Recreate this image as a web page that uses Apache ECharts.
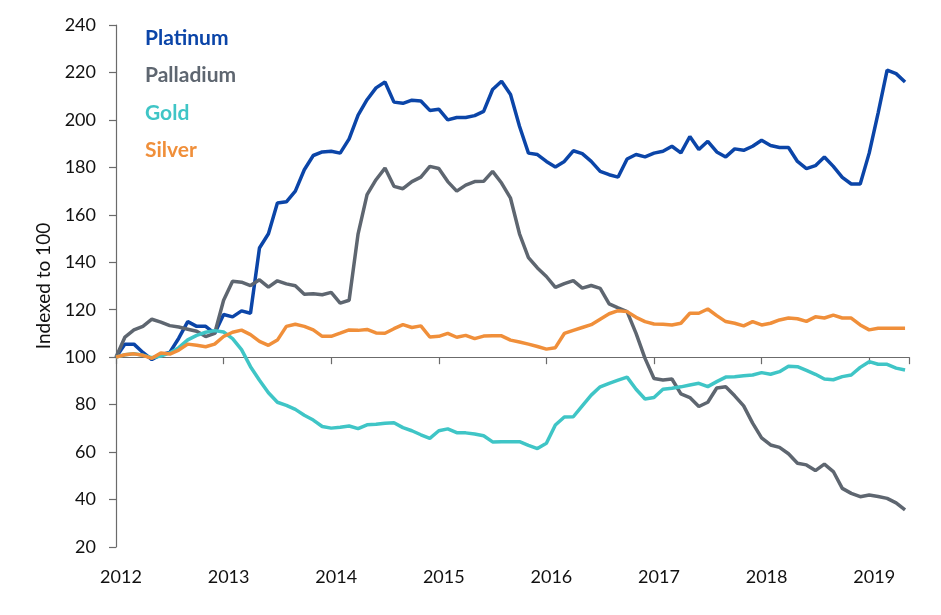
<!DOCTYPE html>
<html>
<head>
<meta charset="utf-8">
<script src="https://cdn.jsdelivr.net/npm/echarts@6/dist/echarts.min.js"></script>
<style>
  html, body { margin: 0; padding: 0; background: #fff; }
  #main { width: 941px; height: 615px; }
</style>
</head>
<body>
<div id="main"></div>
<script>
var myChart = echarts.init(document.getElementById('main'));

// monthly index values, Jan 2012 .. May 2019 (Jan 2012 = 100)
const startYear = 2012;
const yearTicks = [2012, 2013, 2014, 2015, 2016, 2017, 2018, 2019];

const platinum = [
  100, 105.5, 105.5, 102, 99, 101, 102, 108, 115, 113, 113, 110,
  118, 117, 119.5, 118.5, 146, 152, 165, 165.5, 170, 179, 185, 186.5,
  186.8, 186, 192, 202, 208.5, 213.5, 216, 207.5, 207, 208.3, 208, 204,
  204.5, 200, 201, 201, 201.8, 203.6, 212.8, 216.3, 210.7, 197.3, 186, 185.4,
  182.5, 180.2, 182.5, 187, 185.8, 182.5, 178.3, 176.9, 175.9, 183.5, 185.4, 184.4,
  186, 186.8, 188.9, 186.1, 193, 187.5, 191, 186.5, 184.4, 187.8, 187.2, 188.9,
  191.4, 189.2, 188.4, 188.4, 182.5, 179.5, 180.7, 184.4, 180.4, 175.8, 173, 173,
  186, 203, 221, 219.5, 216
];

const palladium = [
  100, 108.5, 111.5, 113, 116, 114.8, 113.3, 112.7, 111.8, 110.9, 108.7, 110,
  124, 132, 131.6, 130.2, 132.6, 129.5, 132.2, 130.9, 130.1, 126.5, 126.7, 126.3,
  127.3, 122.8, 124, 152, 168.5, 174.8, 179.7, 172, 171, 174, 175.9, 180.4,
  179.5, 174, 170, 172.5, 174, 174.1, 178.3, 173.4, 167, 152, 142, 137.6,
  134, 129.4, 131, 132.3, 129.1, 130.2, 129, 122.5, 120.8, 119.2, 110, 99.5,
  91, 90.4, 90.8, 84.5, 83, 79.2, 81, 87, 87.5, 83.7, 79.5, 72.2,
  66, 63, 62, 59.3, 55.3, 54.6, 52.2, 54.9, 51.8, 44.7, 42.6, 41.2,
  41.9, 41.3, 40.5, 38.6, 35.6
];

const gold = [
  100, 101, 101.5, 100.8, 99.8, 100.5, 101.8, 104, 107.3, 109.2, 110.5, 111.2,
  110.6, 107.8, 103.2, 96, 90.3, 85, 81, 79.7, 78, 75.5, 73.5, 70.8,
  70.1, 70.5, 71, 69.9, 71.5, 71.7, 72.2, 72.4, 70.3, 69, 67.3, 65.8,
  69, 69.8, 68.2, 68.1, 67.6, 66.9, 64.3, 64.4, 64.4, 64.4, 62.8, 61.5,
  63.7, 71.4, 74.8, 74.9, 79.5, 84, 87.5, 89, 90.3, 91.6, 86.5, 82.4,
  83, 86.5, 86.9, 87.5, 88.3, 89, 87.6, 89.7, 91.6, 91.8, 92.2, 92.5,
  93.5, 92.8, 93.9, 96.2, 96, 94.4, 92.8, 90.8, 90.5, 91.8, 92.5, 95.7,
  98.1, 97, 97, 95.4, 94.6
];

const silver = [
  100, 101, 101.4, 100.8, 99.5, 101.8, 101.3, 103, 105.5, 105, 104.4, 105.5,
  108.7, 110.5, 111.4, 109.5, 106.7, 105, 107.2, 113, 113.9, 113, 111.5, 108.8,
  108.8, 110.1, 111.5, 111.3, 111.7, 110.2, 110.1, 112, 113.7, 112.5, 113.2, 108.5,
  108.8, 110, 108.4, 109.2, 107.8, 108.9, 109, 109, 107.2, 106.4, 105.5, 104.5,
  103.4, 104, 110, 111.3, 112.5, 113.7, 116, 118.3, 119.6, 119.2, 116.8, 115,
  114, 113.9, 113.6, 114.3, 118.5, 118.5, 120.3, 117.5, 115, 114.3, 113.2, 115,
  113.6, 114.3, 115.7, 116.5, 116.2, 115.1, 117, 116.5, 117.7, 116.5, 116.5, 113.6,
  111.5, 112.2, 112.2, 112.2, 112.2
];

const names = ['Platinum', 'Palladium', 'Gold', 'Silver'];
const colors = ['#0b45a8', '#5e6670', '#3fc5c6', '#f08f3a'];
const values = [platinum, palladium, gold, silver];

// month index -> decimal year
function toPoints(arr) {
  return arr.map(function (v, i) {
    return [startYear + i / 12, v];
  });
}

const fontFamily = 'Lato, "Open Sans", sans-serif';

const option = {
  animation: false,
  backgroundColor: '#fff',
  grid: {
    left: 116,
    right: 32,
    top: 25,
    bottom: 68
  },
  legend: {
    orient: 'vertical',
    left: 140,
    top: 27,
    padding: 0,
    icon: 'none',
    itemWidth: 0,
    itemHeight: 22,
    itemGap: 15.5,
    selectedMode: false,
    textStyle: {
      fontFamily: fontFamily,
      fontSize: 21,
      fontWeight: 'bold',
      lineHeight: 22
    },
    data: names.map(function (n, k) {
      return { name: n, textStyle: { color: colors[k] } };
    })
  },
  xAxis: [
    {
      // axis line with ticks, crossing the y axis at 100
      type: 'value',
      position: 'bottom',
      min: 2012,
      max: 2019.37,
      interval: 1,
      axisLine: {
        show: true,
        onZero: true,
        onZeroAxisIndex: 1,
        lineStyle: { color: '#6b6b6b', width: 1.2 }
      },
      axisTick: { show: true, length: 7, lineStyle: { color: '#6b6b6b', width: 1.2 } },
      axisLabel: { show: false },
      splitLine: { show: false }
    },
    {
      // year labels at the bottom
      type: 'value',
      position: 'bottom',
      min: 2012,
      max: 2019.37,
      interval: 1,
      axisLine: { show: false, onZero: false },
      axisTick: { show: false },
      splitLine: { show: false },
      axisLabel: {
        margin: 21,
        padding: [0, 0, 0, 10],
        color: '#111',
        fontFamily: fontFamily,
        fontSize: 18,
        showMaxLabel: false,
        formatter: function (v) {
          return yearTicks.indexOf(Math.round(v)) >= 0 ? String(Math.round(v)) : '';
        }
      }
    }
  ],
  yAxis: [
    {
      type: 'value',
      min: 20,
      max: 240,
      interval: 20,
      name: 'Indexed to 100',
      nameLocation: 'middle',
      nameRotate: 90,
      nameGap: 61,
      nameTextStyle: { color: '#111', fontFamily: fontFamily, fontSize: 19 },
      axisLine: { show: true, lineStyle: { color: '#6b6b6b', width: 1.2 } },
      axisTick: { show: true, length: 7, lineStyle: { color: '#6b6b6b', width: 1.2 } },
      axisLabel: { margin: 20, color: '#111', fontFamily: fontFamily, fontSize: 18 },
      splitLine: { show: false }
    },
    {
      // hidden helper axis: its zero sits at index 100
      type: 'value',
      show: false,
      min: -80,
      max: 140,
      splitLine: { show: false }
    }
  ],
  series: names.map(function (n, k) {
    return {
      name: n,
      type: 'line',
      xAxisIndex: 0,
      yAxisIndex: 0,
      data: toPoints(values[k]),
      showSymbol: false,
      symbol: 'none',
      z: 2 + k,
      lineStyle: { color: colors[k], width: 3.5 },
      itemStyle: { color: colors[k] }
    };
  })
};

myChart.setOption(option);
</script>
</body>
</html>
